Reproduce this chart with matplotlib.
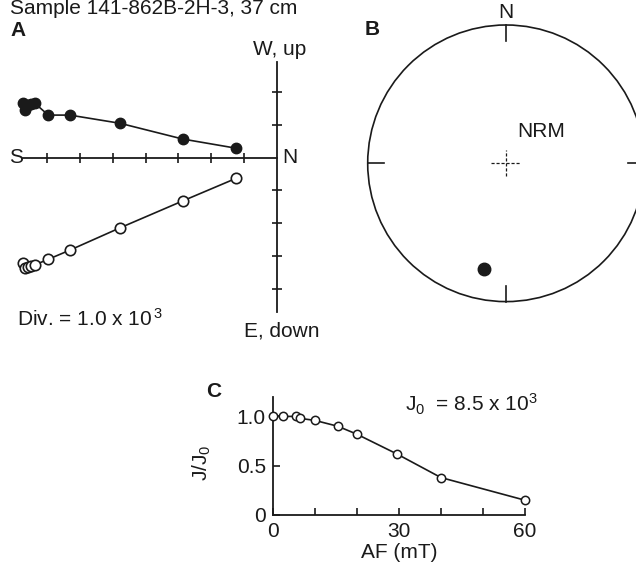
import numpy as np
import matplotlib
matplotlib.use("Agg")
import matplotlib.pyplot as plt
from matplotlib.patches import Circle

plt.rcParams['font.family'] = ['Liberation Sans', 'DejaVu Sans']
plt.rcParams['mathtext.fontset'] = 'custom'
plt.rcParams['mathtext.rm'] = 'Liberation Sans'
plt.rcParams['mathtext.it'] = 'Liberation Sans:italic'
plt.rcParams['mathtext.default'] = 'regular'

# AF demagnetization steps (mT) and remaining intensity J/J0
af_steps = [0, 2.5, 5.5, 6.5, 10, 15.5, 20, 29.5, 40, 60]
j_norm = [1.0, 1.0, 1.0, 0.98, 0.96, 0.90, 0.82, 0.62, 0.38, 0.15]

# vector end points for each step, in divisions (1 div = 1.0 x 10^3)
north = [-7.75, -7.68, -7.59, -7.50, -7.38, -6.97, -6.31, -4.78, -2.87, -1.24]
west = [1.66, 1.46, 1.61, 1.64, 1.66, 1.30, 1.30, 1.05, 0.57, 0.29]
up = [-3.22, -3.38, -3.33, -3.30, -3.27, -3.10, -2.82, -2.14, -1.32, -0.63]

# NRM direction for the stereonet
nrm_dec = 192.0
nrm_inc = 23.0

W, H = 636, 566
FS = 15
ink = '#1a1a1a'

fig = plt.figure(figsize=(W / 100, H / 100), dpi=100)


def px_axes(x0, y0, x1, y1):
    return fig.add_axes([x0 / W, 1 - y1 / H, (x1 - x0) / W, (y1 - y0) / H])


fig.text(10 / W, 1 - 14 / H, 'Sample 141-862B-2H-3, 37 cm', fontsize=FS,
         ha='left', va='baseline', color=ink)

# ---- A: orthogonal vector plot
ox, oy, sc = 276.7, 157.7, 32.77
axA = px_axes(0, 40, 330, 340)
axA.set_xlim((0 - ox) / sc, (330 - ox) / sc)
axA.set_ylim((oy - 340) / sc, (oy - 40) / sc)
axA.axis('off')

axA.plot([-7.74, 0], [0, 0], color=ink, lw=1.3)
axA.plot([0, 0], [-4.71, 2.92], color=ink, lw=1.3)
axA.plot(range(-7, 0), [0] * 7, ls='none', marker='|', ms=6.5, mew=1.2, color=ink)
axA.plot([0] * 6, [2, 1, -1, -2, -3, -4], ls='none', marker='_', ms=6.5, mew=1.2, color=ink)

axA.plot(north, west, '-o', color=ink, lw=1.2, ms=7.5, mfc=ink, mec=ink)
axA.plot(north, up, '-o', color=ink, lw=1.2, ms=7.5, mfc='white', mec=ink, mew=1.2)

axA.text(-7.956, 0, 'S', fontsize=FS, ha='center', va='center', color=ink)
axA.text(0.406, 0, 'N', fontsize=FS, ha='center', va='center', color=ink)
axA.text(0.1, 3.287, 'W, up', fontsize=FS, ha='center', va='center', color=ink)
axA.text(0.16, -5.3, 'E, down', fontsize=FS, ha='center', va='center', color=ink)
axA.text(-7.926, -5.136, 'Div. = 1.0 x 10$^{\\,3}$', fontsize=FS,
         ha='left', va='baseline', color=ink)

# ---- B: equal-area stereonet
cx, cy, R = 506, 163.3, 138.3
axB = px_axes(350, 0, 660, 320)
axB.set_xlim((350 - cx) / R, (660 - cx) / R)
axB.set_ylim((cy - 320) / R, (cy - 0) / R)
axB.axis('off')
axB.add_patch(Circle((0, 0), 1, fill=False, lw=1.2, ec=ink))
for az in np.radians([0, 90, 180, 270]):
    axB.plot([np.sin(az), 0.885 * np.sin(az)], [np.cos(az), 0.885 * np.cos(az)],
             color=ink, lw=1.2)
axB.plot([-0.108, 0.108], [0, 0], color=ink, lw=0.9, ls=(0, (2.5, 1.5)))
axB.plot([0, 0], [-0.095, 0.095], color=ink, lw=0.9, ls=(0, (2.5, 1.5)))

r = np.sqrt(2) * np.sin(np.radians(90 - nrm_inc) / 2)
d = np.radians(nrm_dec)
axB.plot(r * np.sin(d), r * np.cos(d), 'o', ms=9, color=ink,
         mfc=ink if nrm_inc >= 0 else 'white')
axB.text(0, 1.087, 'N', fontsize=FS, ha='center', va='center', color=ink)
axB.text(0.253, 0.229, 'NRM', fontsize=FS, ha='center', va='center', color=ink)

# ---- C: AF demagnetization curve
axC = px_axes(272.7, 396.7, 525, 515)
axC.plot(af_steps, j_norm, '-o', color=ink, lw=1.2, ms=6, mfc='white',
         mec=ink, mew=1.1, clip_on=False, zorder=3)
axC.set_xlim(0, 60)
axC.set_ylim(0, 1.2)
for s in ['top', 'right']:
    axC.spines[s].set_visible(False)
for s in ['left', 'bottom']:
    axC.spines[s].set_linewidth(1.3)
    axC.spines[s].set_color(ink)
axC.set_xticks(range(0, 61, 10))
axC.set_xticklabels(['0', '', '', '30', '', '', '60'])
axC.set_yticks([0, 0.5, 1.0])
axC.set_yticklabels(['0', '0.5', '1.0'])
axC.tick_params(direction='in', length=5, width=1.2, labelsize=FS, colors=ink, pad=5)
axC.set_xlabel('AF (mT)', fontsize=FS, color=ink)
axC.xaxis.set_label_coords(0.5, -0.24)
axC.set_ylabel('J/J$_0$', fontsize=FS, color=ink)
axC.yaxis.set_label_coords(-0.237, 0.44)
axC.text(31.5, 1.05, '$J_0$  = 8.5 x 10$^{3}$', fontsize=FS, ha='left',
         va='baseline', color=ink)

# panel letters
for lab, x, y in [('A', 18, 30), ('B', 371.7, 29.3), ('C', 213.3, 391.7)]:
    fig.text(x / W, 1 - y / H, lab, fontsize=FS, fontweight='bold',
             ha='center', va='center', color=ink)

fig.savefig('out.png', dpi=100, facecolor='white')
